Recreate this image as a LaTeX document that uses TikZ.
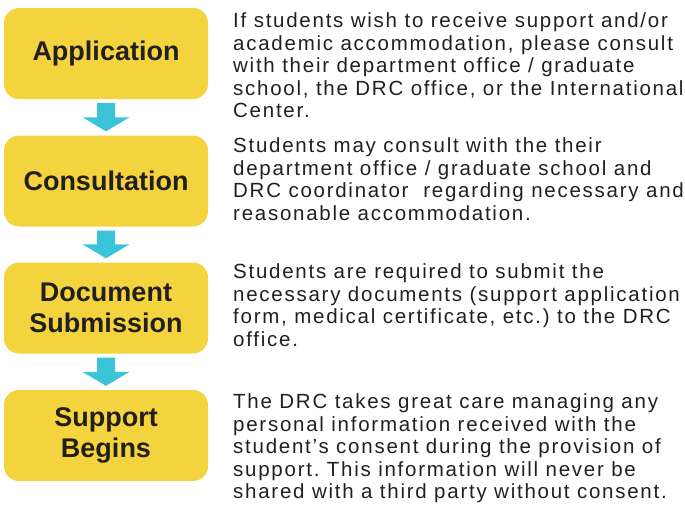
\documentclass[tikz,border=0pt]{standalone}
\usepackage{fontspec}
\setmainfont{Liberation Sans}
\newfontfamily\notefont[LetterSpace=8.5]{Liberation Sans}
\usepackage{tikz}
\usetikzlibrary{calc}

\definecolor{stepyellow}{RGB}{244,212,62}
\definecolor{stepcyan}{RGB}{59,196,216}
\definecolor{inkgray}{RGB}{35,31,32}

\tikzset{
  stepbox/.style={fill=stepyellow, rounded corners=15pt, minimum width=204pt,
    minimum height=91pt, align=center, text=inkgray, inner sep=0pt,
    font=\bfseries\fontsize{27}{31}\selectfont},
  stepnote/.style={anchor=north west, align=left, inner sep=0pt, text=inkgray,
    font=\notefont\fontsize{20.5}{22.5}\selectfont},
  flowarrow/.style={fill=stepcyan}
}

\begin{document}
\frenchspacing
\begin{tikzpicture}[x=1pt, y=-1pt]

    \useasboundingbox (0,0) rectangle (685,506);

    \node[stepbox] (application) at (106,53.5) {Application};

    \node[stepbox] (consultation) at (106,181) {Consultation};

    \node[stepbox] (submission) at (106,308) {Document\\Submission};

    \node[stepbox] (support) at (106,435.5) {Support\\Begins};



    \node[stepnote] (applicationnote) at (233,12.5)
      {If students wish to receive support and/or\\
       academic accommodation, please consult\\
       with their department office / graduate\\
       school, the DRC office, or the International\\
       Center.};

    \node[stepnote] (consultationnote) at (233,137.5)
      {Students may consult with the their\\
       department office / graduate school and\\
       DRC coordinator\ \ regarding necessary and\\
       reasonable accommodation.};

    \node[stepnote] (submissionnote) at (233,263.5)
      {Students are required to submit the\\
       necessary documents (support application\\
       form, medical certificate, etc.) to the DRC\\
       office.};

    \node[stepnote] (supportnote) at (233,393.5)
      {The DRC takes great care managing any\\
       personal information received with the\\
       student’s consent during the provision of\\
       support. This information will never be\\
       shared with a third party without consent.};



    \fill[flowarrow] ($(application.south)+(-9,4)$) -- ($(application.south)+(9,4)$)
      -- ($(consultation.north)+(9,-18)$) -- ($(consultation.north)+(23.5,-18)$)
      -- ($(consultation.north)+(0,-4)$) -- ($(consultation.north)+(-23.5,-18)$)
      -- ($(consultation.north)+(-9,-18)$) -- cycle;

    \fill[flowarrow] ($(consultation.south)+(-9,4)$) -- ($(consultation.south)+(9,4)$)
      -- ($(submission.north)+(9,-18)$) -- ($(submission.north)+(23.5,-18)$)
      -- ($(submission.north)+(0,-4)$) -- ($(submission.north)+(-23.5,-18)$)
      -- ($(submission.north)+(-9,-18)$) -- cycle;

    \fill[flowarrow] ($(submission.south)+(-9,4)$) -- ($(submission.south)+(9,4)$)
      -- ($(support.north)+(9,-18)$) -- ($(support.north)+(23.5,-18)$)
      -- ($(support.north)+(0,-4)$) -- ($(support.north)+(-23.5,-18)$)
      -- ($(support.north)+(-9,-18)$) -- cycle;

  \end{tikzpicture}
\end{document}
